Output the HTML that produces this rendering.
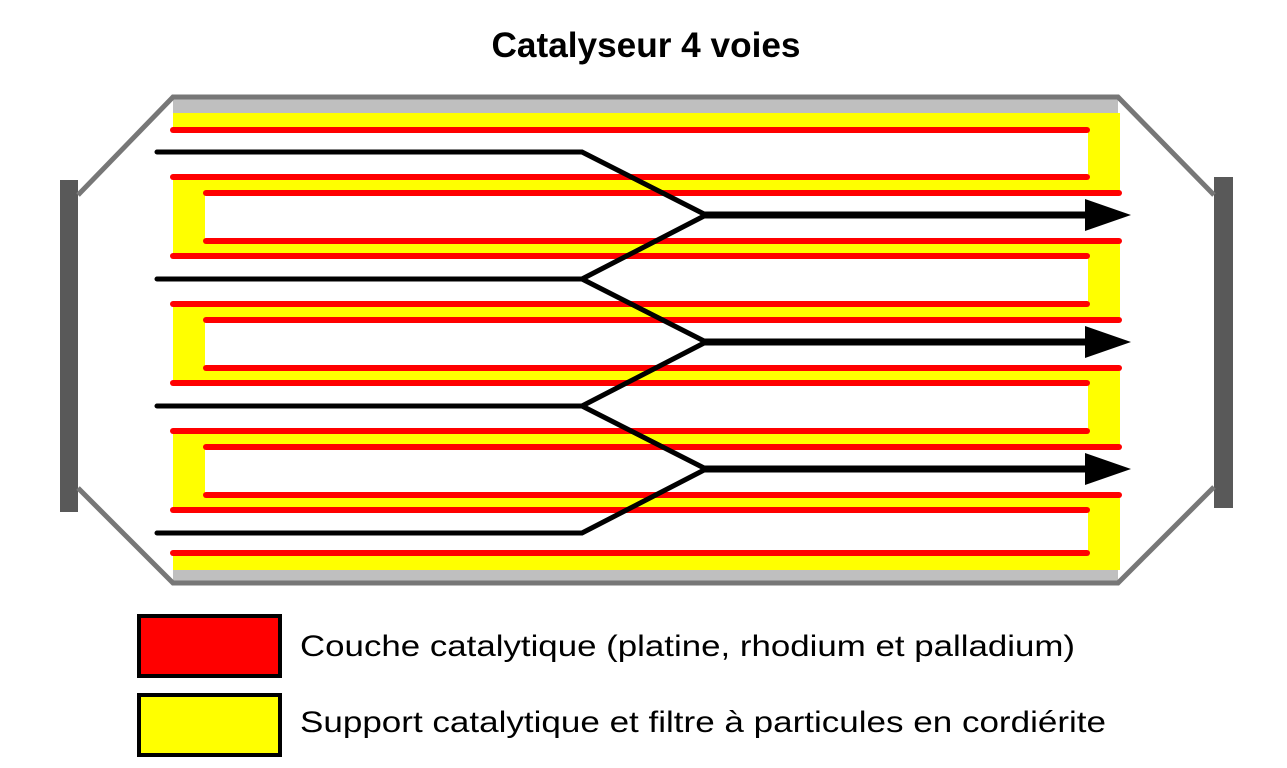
<!DOCTYPE html>
<html><head><meta charset="utf-8"><style>html,body{margin:0;padding:0;background:#fff}svg{display:block}</style></head>
<body>
<svg width="1287" height="768" viewBox="0 0 1287 768" xmlns="http://www.w3.org/2000/svg">
<text x="646" y="57" text-anchor="middle" font-family="Liberation Sans, sans-serif" font-weight="bold" font-size="35" textLength="309" lengthAdjust="spacingAndGlyphs">Catalyseur 4 voies</text>
<!-- flanges -->
<rect x="60" y="180" width="18" height="332" fill="#595959"/>
<rect x="1214" y="177" width="19" height="331" fill="#595959"/>
<!-- gray layers -->
<rect x="173" y="99" width="945" height="14" fill="#bfbfbf"/>
<rect x="173" y="570" width="945" height="11" fill="#bfbfbf"/>
<!-- yellow -->
<g fill="#ffff00">
<rect x="173" y="113" width="947" height="17"/>
<rect x="173" y="553" width="947" height="17"/>
<rect x="1088" y="113" width="32" height="80"/>
<rect x="1088" y="256" width="32" height="64"/>
<rect x="1088" y="383" width="32" height="64"/>
<rect x="1088" y="510" width="32" height="60"/>
<rect x="173" y="177" width="947" height="16"/><rect x="173" y="241" width="947" height="15"/><rect x="173" y="177" width="32" height="79"/>
<rect x="173" y="304" width="947" height="16"/><rect x="173" y="368" width="947" height="15"/><rect x="173" y="304" width="32" height="79"/>
<rect x="173" y="431" width="947" height="16"/><rect x="173" y="495" width="947" height="15"/><rect x="173" y="431" width="32" height="79"/>
</g>
<!-- red -->
<g stroke="#ff0000" stroke-width="6" stroke-linecap="round">
<line x1="173" y1="130" x2="1087" y2="130"/>
<line x1="173" y1="553" x2="1087" y2="553"/>
<line x1="173" y1="177" x2="1087" y2="177"/><line x1="206" y1="193" x2="1119" y2="193"/><line x1="206" y1="241" x2="1119" y2="241"/><line x1="173" y1="256" x2="1087" y2="256"/>
<line x1="173" y1="304" x2="1087" y2="304"/><line x1="206" y1="320" x2="1119" y2="320"/><line x1="206" y1="368" x2="1119" y2="368"/><line x1="173" y1="383" x2="1087" y2="383"/>
<line x1="173" y1="431" x2="1087" y2="431"/><line x1="206" y1="447" x2="1119" y2="447"/><line x1="206" y1="495" x2="1119" y2="495"/><line x1="173" y1="510" x2="1087" y2="510"/>
</g>
<!-- casing -->
<g fill="none" stroke="#777" stroke-width="5">
<polyline points="78,195 173,97 1118,97 1214,195"/>
<polyline points="78,488 173,583 1118,583 1214,487"/>
</g>
<!-- flow -->
<g fill="none" stroke="#000" stroke-width="5" stroke-linecap="round" stroke-linejoin="miter">
<polyline points="157,152 582,152 706,215"/>
<polyline points="157,279 582,279 706,215"/>
<polyline points="582,279 706,342"/>
<polyline points="157,406 582,406 706,342"/>
<polyline points="582,406 706,469"/>
<polyline points="157,533 582,533 706,469"/>
</g>
<g stroke="#000" stroke-width="7">
<line x1="704" y1="215" x2="1090" y2="215"/>
<line x1="704" y1="342" x2="1090" y2="342"/>
<line x1="704" y1="469" x2="1090" y2="469"/>
</g>
<g fill="#000">
<polygon points="1085,199 1131,215 1085,231"/>
<polygon points="1085,326 1131,342 1085,358"/>
<polygon points="1085,453 1131,469 1085,485"/>
</g>
<!-- legend -->
<rect x="139" y="616" width="141" height="60" fill="#ff0000" stroke="#000" stroke-width="4"/>
<rect x="139" y="695" width="141" height="60" fill="#ffff00" stroke="#000" stroke-width="4"/>
<g font-family="Liberation Sans, sans-serif" font-size="30" fill="#000">
<text x="300" y="656" textLength="775" lengthAdjust="spacingAndGlyphs">Couche catalytique (platine, rhodium et palladium)</text>
<text x="300" y="732" textLength="806" lengthAdjust="spacingAndGlyphs">Support catalytique et filtre à particules en cordiérite</text>
</g>
</svg>
</body></html>
